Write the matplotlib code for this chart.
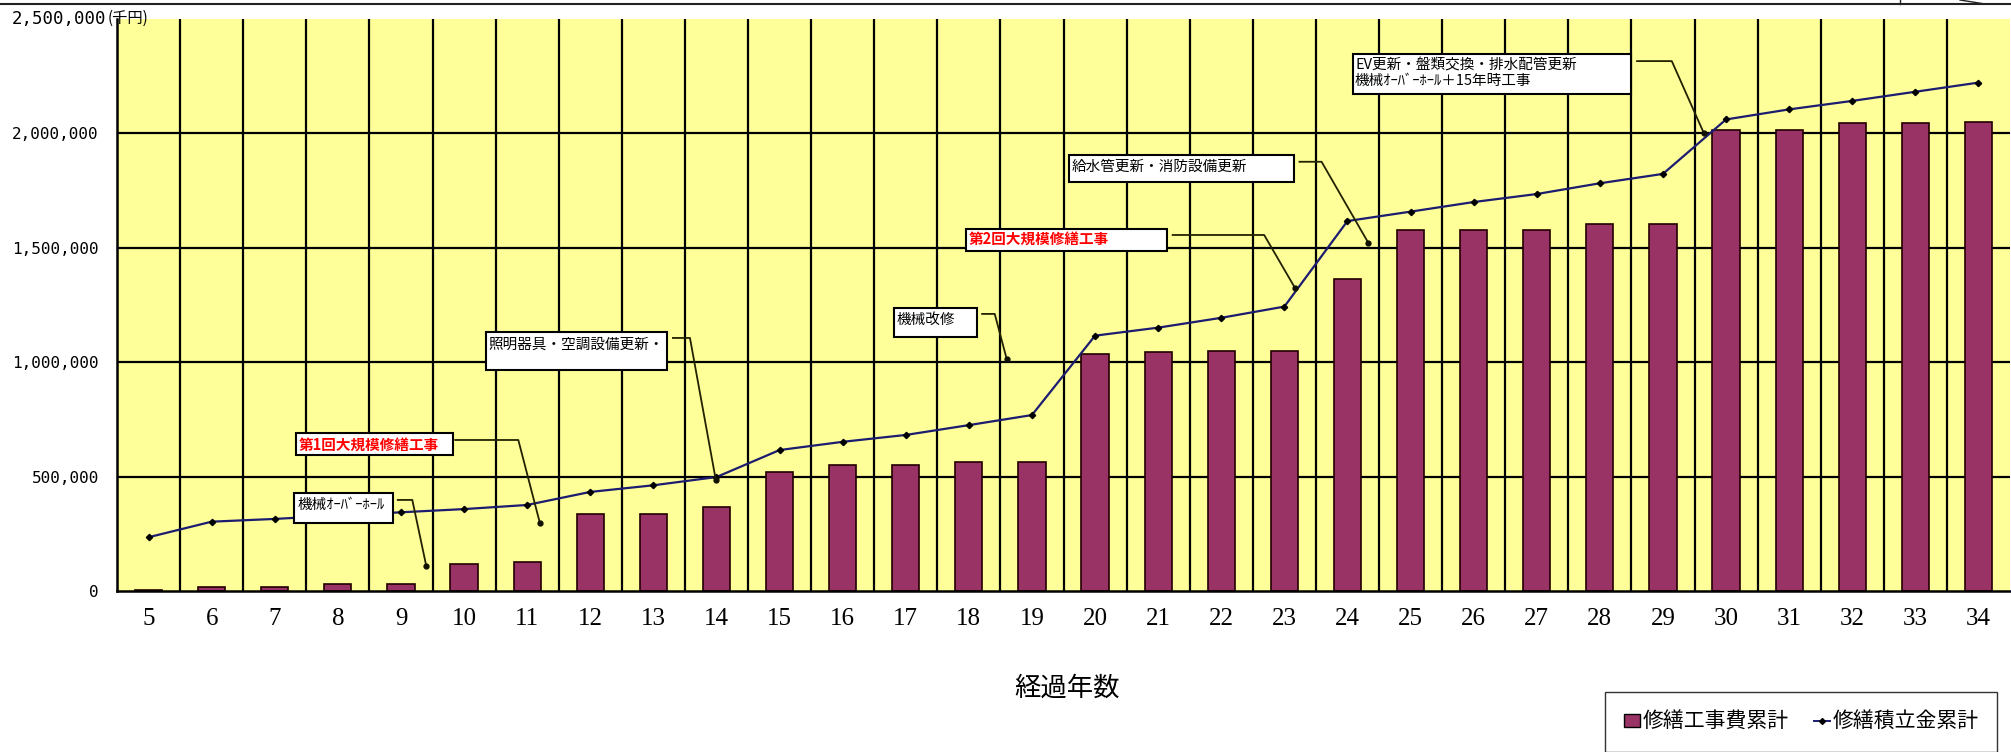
import matplotlib.pyplot as plt
from matplotlib.patches import Rectangle, Patch
from matplotlib.lines import Line2D

plt.rcParams['font.family'] = ['Noto Sans CJK JP', 'DejaVu Sans']

years = list(range(5, 35))
# 修繕工事費累計 (千円)
repair_cost = [6000, 17000, 17000, 32000, 32000, 120000, 126000, 336000, 336000, 366000,
               519000, 551000, 551000, 562000, 562000, 1036000, 1043000, 1049000, 1049000, 1363000,
               1578000, 1578000, 1578000, 1604000, 1604000, 2015000, 2015000, 2044000, 2044000, 2051000]
# 修繕積立金累計 (千円)
reserve_fund = [235000, 303000, 315000, 330000, 344000, 358000, 376000, 433000, 462000, 498000,
                616000, 652000, 682000, 725000, 769000, 1116000, 1151000, 1194000, 1243000, 1617000,
                1658000, 1700000, 1735000, 1782000, 1823000, 2061000, 2105000, 2142000, 2182000, 2222000]
y_ticks = [0, 500000, 1000000, 1500000, 2000000, 2500000]

# callouts: text, colour, bold, box (x0, x1, y0, y1), text anchor, leader polyline
notes = [
    ('機械ｵｰﾊﾞｰﾎｰﾙ', 'black', False, (2.30, 3.87, 296e3, 427e3), (2.36, 378e3),
     [(3.95, 398e3), (4.18, 398e3), (4.40, 111e3)]),
    ('第1回大規模修繕工事', '#ff0000', True, (2.33, 4.82, 594e3, 689e3), (2.38, 640e3),
     [(4.86, 660e3), (5.86, 660e3), (6.20, 299e3)]),
    ('照明器具・空調設備更新・', 'black', False, (5.35, 8.22, 966e3, 1132e3), (5.38, 1075e3),
     [(8.31, 1106e3), (8.58, 1106e3), (8.99, 485e3)]),
    ('機械改修', 'black', False, (11.81, 13.13, 1111e3, 1238e3), (11.85, 1186e3),
     [(13.21, 1211e3), (13.41, 1211e3), (13.60, 1014e3)]),
    ('第2回大規模修繕工事', '#ff0000', True, (12.95, 16.14, 1487e3, 1582e3), (12.99, 1541e3),
     [(16.23, 1556e3), (17.68, 1556e3), (18.17, 1324e3)]),
    ('給水管更新・消防設備更新', 'black', False, (14.59, 18.15, 1788e3, 1906e3), (14.63, 1854e3),
     [(18.24, 1876e3), (18.59, 1876e3), (19.33, 1522e3)]),
    ('EV更新・盤類交換・排水配管更新\n機械ｵｰﾊﾞｰﾎｰﾙ＋15年時工事', 'black', False,
     (19.09, 23.50, 2171e3, 2347e3), (19.12, 2262e3),
     [(23.59, 2316e3), (24.14, 2316e3), (24.65, 2000e3)]),
]

W, H = 2011, 752
fig = plt.figure(figsize=(W / 100, H / 100), dpi=100)
ax = fig.add_axes([117 / W, 161 / H, (2010 - 117) / W, (591 - 19) / H])
ax.set_facecolor('#ffff99')

x = list(range(len(years)))
ax.set_xlim(-0.5, len(years) - 0.5)
ax.set_ylim(0, 2500000)

# grid: category boundaries and value lines
for k in range(1, len(years)):
    ax.axvline(k - 0.5, color='black', lw=1.6, zorder=1)
for v in y_ticks[1:-1]:
    ax.axhline(v, color='black', lw=1.6, zorder=1)

ax.bar(x, repair_cost, width=0.43, color='#993366', edgecolor='#220000', lw=1.2, zorder=2)
ax.plot(x, reserve_fund, color='#1c1c70', lw=1.6, marker='D', ms=3.2,
        mfc='black', mec='black', zorder=3)

for text, col, bold, (x0, x1, y0, y1), (tx, ty), leader in notes:
    ax.add_patch(Rectangle((x0, y0), x1 - x0, y1 - y0, facecolor='white',
                           edgecolor='black', lw=1.5, zorder=5))
    ax.text(tx, ty, text, color=col, fontsize=10.5, fontweight='bold' if bold else 'normal',
            ha='left', va='center', linespacing=1.1, zorder=6)
    lx, ly = zip(*leader)
    ax.plot(lx, ly, color='#222200', lw=1.3, zorder=4)
    ax.plot(lx[-1], ly[-1], 'o', color='#111100', ms=3.5, zorder=4)

ax.set_xticks(x)
ax.set_xticklabels([str(y) for y in years], family='Liberation Serif', fontsize=18)
ax.tick_params(axis='x', length=0, pad=12)
ax.set_yticks(y_ticks)
ax.set_yticklabels([f'{v:,}' for v in y_ticks[:-1]] + [''],
                   family='DejaVu Sans Mono', fontsize=11.5)
ax.tick_params(axis='y', length=0, pad=13)
for s in ('top', 'right'):
    ax.spines[s].set_visible(False)
for s in ('left', 'bottom'):
    ax.spines[s].set_linewidth(1.8)
    ax.spines[s].set_color('black')

# top value label with unit
fig.text(12 / W, 1 - 19 / H, '2,500,000', family='DejaVu Sans Mono', fontsize=12.5,
         ha='left', va='center')
fig.text(108 / W, 1 - 18 / H, '(千円)', fontsize=11, ha='left', va='center')

fig.text(0.5306, 1 - 688 / H, '経過年数', fontsize=19, ha='center', va='center')

# frame line along the top edge
fig.add_artist(Line2D([0, 1], [1 - 4 / H] * 2, transform=fig.transFigure, color='#222222', lw=1.5))
fig.add_artist(Line2D([1900 / W, 1900 / W], [1, 1 - 4 / H], transform=fig.transFigure,
                      color='#222222', lw=1.0))
fig.add_artist(Line2D([1960 / W, 1985 / W], [1, 1 - 4 / H], transform=fig.transFigure,
                      color='#222222', lw=1.0))

handles = [Patch(facecolor='#993366', edgecolor='black'),
           Line2D([], [], color='#1c1c70', lw=1.4, marker='D', ms=3, mfc='black', mec='black')]
fig.legend(handles, ['修繕工事費累計', '修繕積立金累計'], loc='upper left',
           bbox_to_anchor=(1605 / W, 1 - 692 / H), ncol=2, frameon=True, fancybox=False,
           edgecolor='black', fontsize=15, handlelength=0.8, handleheight=0.6,
           handletextpad=0.1, columnspacing=1.2, borderpad=0.9, borderaxespad=0)

fig.savefig('out.png', dpi=100)
